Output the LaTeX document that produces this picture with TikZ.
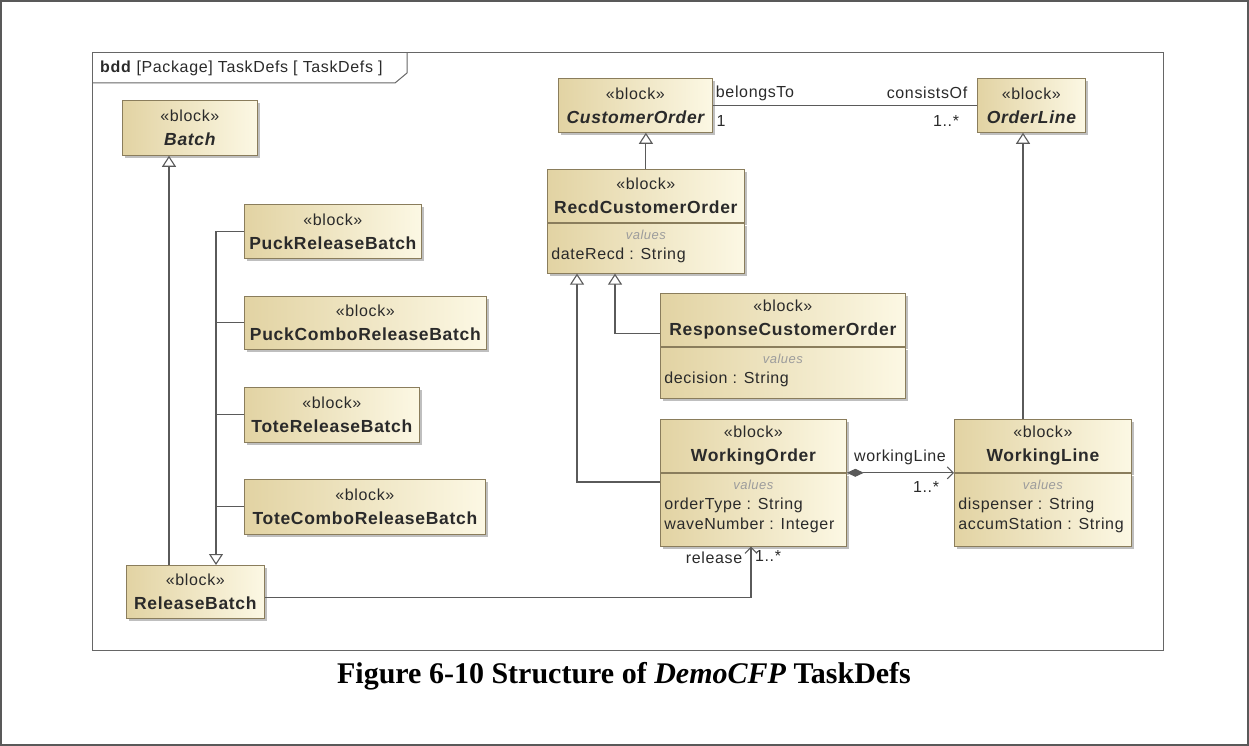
\documentclass[tikz,border=0pt]{standalone}
\usepackage{fontspec}
\setmainfont[LetterSpace=4]{Liberation Sans}
\newfontfamily\capfont{Liberation Serif}
\usepackage{xcolor}
\usetikzlibrary{arrows.meta, shadows, positioning}

\definecolor{blkleft}{HTML}{E2D3A3}
\definecolor{blkright}{HTML}{FCF8E4}
\definecolor{blkline}{HTML}{8A7D5C}
\definecolor{linkcol}{HTML}{5A5A5A}
\definecolor{valcol}{HTML}{9C9C9C}
\definecolor{textcol}{HTML}{2A2A2A}

\newcommand{\stereo}{«block»}
\newcommand{\bname}[1]{{\fontsize{17.5}{24}\selectfont\bfseries #1}}
\newcommand{\aname}[1]{{\fontsize{17.5}{24}\selectfont\bfseries\itshape #1}}
\newcommand{\vals}[3]{\parbox[c][#2][t]{#1}{\vspace*{7pt}{\centering\fontsize{13}{15}\selectfont\color{valcol}\itshape values\par}\fontsize{16}{20}\selectfont\raggedright #3}}

\tikzset{
  every node/.append style={font=\fontsize{16}{24}\selectfont, text=textcol},
  blk/.style={draw=blkline, line width=0.8pt, left color=blkleft, right color=blkright,
    anchor=north west, inner sep=0pt, align=center,
    drop shadow={shadow xshift=3pt, shadow yshift=-3pt, fill=black!25, opacity=1}},
  cmp/.style={blk, inner xsep=4pt, inner ysep=0pt},
  link/.style={draw=linkcol, line width=1.1pt},
  gen/.style={link, -{Triangle[open, length=11pt, width=14pt, fill=white]}},
  comp/.style={link, {Diamond[length=17pt, width=8pt]}-{Straight Barb[length=6pt, width=12pt]}},
  nav/.style={link, -{Straight Barb[length=6pt, width=12pt]}},
  frame/.style={draw=black!60, line width=1pt},
  lbl/.style={inner sep=0pt}
}

\begin{document}
\begin{tikzpicture}[x=1pt, y=-1pt]
  \useasboundingbox (0,0) rectangle (1249,746);
  \draw[draw=black!65, line width=1.5pt] (1,1) rectangle (1248,745);

  % diagram frame and its tab
  \draw[frame] (92,53) rectangle (1163,650);
  \draw[frame] (92,83) -- (395,83) -- (407,73) -- (407,53);
  \node[anchor=west, inner sep=0pt] (title) at (100,68) {\textbf{bdd} [Package] TaskDefs [ TaskDefs ]};

  % batches
  \node[blk, minimum width=135pt, minimum height=55pt] (batch) at (122,100) {\stereo\\\aname{Batch}};
  \node[blk, minimum width=177pt, minimum height=54pt] (puck) at (244,204) {\stereo\\\bname{PuckReleaseBatch}};
  \node[blk, minimum width=242pt, minimum height=53pt] (puckcombo) at (244,296) {\stereo\\\bname{PuckComboReleaseBatch}};
  \node[blk, minimum width=175pt, minimum height=55pt] (tote) at (244,387) {\stereo\\\bname{ToteReleaseBatch}};
  \node[blk, minimum width=241pt, minimum height=55pt] (totecombo) at (244,479) {\stereo\\\bname{ToteComboReleaseBatch}};
  \node[blk, minimum width=138pt, minimum height=53pt] (relbatch) at (126,565) {\stereo\\\bname{ReleaseBatch}};

  % orders and lines
  \node[blk, minimum width=154pt, minimum height=54pt] (custorder) at (558,78) {\stereo\\\aname{CustomerOrder}};
  \node[blk, minimum width=108pt, minimum height=54pt] (orderline) at (977,78) {\stereo\\\aname{OrderLine}};
  \node[blk, minimum width=197pt, minimum height=53pt] (recd) at (547,169) {\stereo\\\bname{RecdCustomerOrder}};
  \node[cmp] (recdvals) at (recd.south west) {\vals{189pt}{50pt}{dateRecd : String}};
  \node[blk, minimum width=245pt, minimum height=53pt] (response) at (660,293) {\stereo\\\bname{ResponseCustomerOrder}};
  \node[cmp] (responsevals) at (response.south west) {\vals{237pt}{51pt}{decision : String}};
  \node[blk, minimum width=186pt, minimum height=53pt] (workorder) at (660,419) {\stereo\\\bname{WorkingOrder}};
  \node[cmp] (workordervals) at (workorder.south west) {\vals{178pt}{73pt}{orderType : String\\waveNumber : Integer}};
  \node[blk, minimum width=177pt, minimum height=53pt] (workline) at (954,419) {\stereo\\\bname{WorkingLine}};
  \node[cmp] (worklinevals) at (workline.south west) {\vals{169pt}{73pt}{dispenser : String\\accumStation : String}};

  % generalizations, left
  \coordinate (trunk) at (relbatch.north -| 216,0);
  \draw[gen] (relbatch.north -| 169,0) -- (batch.south -| 169,0);
  \draw[link] (puck.west) -- (puck.west -| trunk);
  \draw[link] (puckcombo.west) -- (puckcombo.west -| trunk);
  \draw[link] (tote.west) -- (tote.west -| trunk);
  \draw[link] (totecombo.west) -- (totecombo.west -| trunk);
  \draw[gen] (puck.west -| trunk) -- (trunk);

  % generalizations, right
  \draw[gen] (recd.north) -- (recd.north |- custorder.south);
  \draw[gen] ([yshift=-14pt]response.west) -| (recdvals.south -| 615,0);
  \draw[gen] (workordervals.west |- 0,482) -| (recdvals.south -| 577,0);
  \draw[gen] (workline.north -| 1023,0) -- (orderline.south -| 1023,0);

  % associations
  \draw[link] (custorder.east) -- (orderline.west);
  \node[lbl] (belongs) at (755,93) {belongsTo};
  \node[lbl] (coone) at (721,121) {1};
  \node[lbl] (consists) at (927,93) {consistsOf};
  \node[lbl] (olmany) at (946,121) {1..*};
  \draw[comp] (workorder.south east) -- (workline.south west);
  \node[lbl] (wlrole) at (900,457) {workingLine};
  \node[lbl] (wlmany) at (926,487) {1..*};
  \draw[nav] ([yshift=-6pt]relbatch.east) -| (workordervals.south -| 751,0);
  \node[lbl] (relrole) at (714,558) {release};
  \node[lbl] (relmany) at (768,556) {1..*};

  \node[font=\capfont\bfseries\fontsize{30}{32}\selectfont, text=black, anchor=base] (caption) at (624,683) {Figure 6-10 Structure of \textit{DemoCFP} TaskDefs};
\end{tikzpicture}
\end{document}
